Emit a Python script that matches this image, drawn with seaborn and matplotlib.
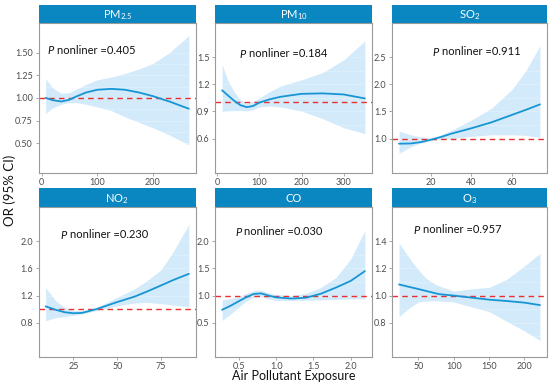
import numpy as np
import pandas as pd
import matplotlib
matplotlib.use("Agg")
import matplotlib.pyplot as plt
import seaborn as sns

# ---------------- data ----------------
titles = ["PM$_{\\mathregular{2.5}}$", "PM$_{\\mathregular{10}}$", "SO$_{\\mathregular{2}}$",
          "NO$_{\\mathregular{2}}$", "CO", "O$_{\\mathregular{3}}$"]
p_values = ["0.405", "0.184", "0.911", "0.230", "0.030", "0.957"]

pm25_x = [7, 20, 35, 50, 60, 80, 100, 125, 150, 175, 200, 230, 265]
pm25_or = [1.00, 0.975, 0.96, 0.98, 1.01, 1.06, 1.09, 1.10, 1.09, 1.06, 1.02, 0.96, 0.88]
pm25_hi = [1.21, 1.11, 1.05, 1.06, 1.09, 1.15, 1.20, 1.23, 1.27, 1.32, 1.38, 1.50, 1.69]
pm25_lo = [0.83, 0.89, 0.93, 0.95, 0.95, 0.93, 0.90, 0.86, 0.79, 0.73, 0.67, 0.59, 0.48]

pm10_x = [12, 25, 40, 55, 70, 85, 100, 125, 150, 200, 250, 300, 350]
pm10_or = [1.134, 1.08, 1.02, 0.97, 0.948, 0.96, 0.998, 1.035, 1.062, 1.095, 1.10, 1.088, 1.044]
pm10_hi = [1.42, 1.25, 1.12, 1.03, 0.99, 1.01, 1.05, 1.12, 1.18, 1.25, 1.33, 1.47, 1.68]
pm10_lo = [0.90, 0.905, 0.91, 0.91, 0.905, 0.92, 0.95, 0.96, 0.95, 0.905, 0.82, 0.72, 0.655]

so2_x = [4.2, 10, 15, 20, 25, 30, 40, 50, 60, 67, 74]
so2_or = [0.906, 0.91, 0.935, 0.98, 1.03, 1.09, 1.19, 1.30, 1.435, 1.53, 1.63]
so2_hi = [1.14, 1.07, 1.03, 1.005, 1.07, 1.15, 1.34, 1.56, 1.90, 2.25, 2.71]
so2_lo = [0.725, 0.85, 0.92, 0.96, 0.985, 0.995, 1.04, 1.07, 1.07, 1.06, 1.02]

no2_x = [9.2, 15, 20, 25, 30, 38, 50, 60, 67, 75, 82, 90.8]
no2_or = [1.041, 0.99, 0.955, 0.94, 0.945, 1.0, 1.105, 1.186, 1.26, 1.35, 1.43, 1.52]
no2_hi = [1.317, 1.12, 1.03, 0.98, 0.98, 1.02, 1.175, 1.30, 1.42, 1.58, 1.85, 2.25]
no2_lo = [0.83, 0.875, 0.89, 0.91, 0.93, 0.98, 1.05, 1.09, 1.10, 1.08, 1.06, 1.035]

co_x = [0.277, 0.4, 0.5, 0.6, 0.7, 0.8, 0.9, 1.0, 1.2, 1.4, 1.6, 1.8, 2.0, 2.19]
co_or = [0.738, 0.82, 0.896, 0.97, 1.03, 1.04, 1.0, 0.967, 0.946, 0.96, 1.034, 1.146, 1.27, 1.45]
co_hi = [0.917, 0.95, 0.98, 1.04, 1.09, 1.10, 1.05, 1.02, 1.0, 1.04, 1.15, 1.33, 1.67, 2.2]
co_lo = [0.54, 0.67, 0.79, 0.90, 0.97, 0.98, 0.94, 0.91, 0.91, 0.915, 0.92, 0.93, 0.94, 0.94]

o3_x = [22.5, 40, 50, 60, 75, 80, 100, 125, 150, 175, 200, 222]
o3_or = [1.082, 1.06, 1.048, 1.035, 1.016, 1.01, 1.0, 0.985, 0.97, 0.96, 0.948, 0.93]
o3_hi = [1.386, 1.255, 1.19, 1.13, 1.08, 1.07, 1.032, 1.05, 1.06, 1.12, 1.218, 1.31]
o3_lo = [0.847, 0.92, 0.953, 0.96, 0.962, 0.96, 0.953, 0.917, 0.882, 0.81, 0.74, 0.67]

xticks = [[0, 100, 200], [0, 100, 200, 300], [20, 40, 60],
          [25, 50, 75], [0.5, 1.0, 1.5, 2.0], [50, 100, 150, 200]]
yticks = [[0.50, 0.75, 1.00, 1.25, 1.50], [0.6, 0.9, 1.2, 1.5], [1.0, 1.5, 2.0, 2.5],
          [0.8, 1.2, 1.6, 2.0], [0.5, 1.0, 1.5, 2.0], [0.8, 1.0, 1.2, 1.4]]
yfmt = ["{:.2f}", "{:.1f}", "{:.1f}", "{:.1f}", "{:.1f}", "{:.1f}"]
xfmt = ["{:.0f}", "{:.0f}", "{:.0f}", "{:.0f}", "{:.1f}", "{:.0f}"]

panels = [(pm25_x, pm25_or, pm25_lo, pm25_hi), (pm10_x, pm10_or, pm10_lo, pm10_hi),
          (so2_x, so2_or, so2_lo, so2_hi), (no2_x, no2_or, no2_lo, no2_hi),
          (co_x, co_or, co_lo, co_hi), (o3_x, o3_or, o3_lo, o3_hi)]

# text positions (axes fraction)
txt_pos = [(0.055, 0.82), (0.155, 0.795), (0.26, 0.81), (0.137, 0.815), (0.127, 0.837), (0.137, 0.85)]

# ---------------- style ----------------
sns.set_style("white")
plt.rcParams["font.family"] = ["Lato", "DejaVu Sans"]
plt.rcParams["mathtext.fontset"] = "custom"
plt.rcParams["mathtext.rm"] = "Lato"
plt.rcParams["mathtext.it"] = "Lato:italic"

STRIP = "#0a87c0"
LINE = "#1795d3"
RIB = "#d3eafb"
RED = "#e8312f"
BORDER = "#9a9a9a"
TICKC = "#4d4d4d"

fig = plt.figure(figsize=(5.5, 3.83), dpi=100)
W, H = 550.0, 383.0
cols = [(38.5, 157.5), (215.0, 157.0), (392.0, 155.0)]
rows = [(23.3, 172.5, 5.0), (207.3, 356.7, 188.0)]

for i, (xs, ys, lo, hi) in enumerate(panels):
    r, c = divmod(i, 3)
    left, width = cols[c]
    top, bottom, stop = rows[r]
    ax = fig.add_axes([left / W, (H - bottom) / H, width / W, (bottom - top) / H])
    sax = fig.add_axes([left / W, (H - top) / H, width / W, (top - stop) / H])
    sax.set_facecolor(STRIP)
    sax.set_xticks([]); sax.set_yticks([])
    for s in sax.spines.values():
        s.set_visible(False)
    sax.text(0.5, 0.45, titles[i], color="white", ha="center", va="center",
             fontsize=8, transform=sax.transAxes)

    df = pd.DataFrame({"x": xs, "or": ys, "lo": lo, "hi": hi})
    ax.fill_between(df["x"], df["lo"], df["hi"], color=RIB, lw=0, zorder=1)
    # faint grid lines visible through the band
    yt = yticks[i]
    step = yt[1] - yt[0]
    for yv in np.arange(yt[0] - step, yt[-1] + step * 1.01, step / 2):
        ax.axhline(yv, color="white", lw=0.6, alpha=0.3, zorder=1.5)
    ax.axhline(1.0, color=RED, lw=1.0, ls=(0, (4, 3)), zorder=2)
    sns.lineplot(data=df, x="x", y="or", ax=ax, color=LINE, lw=1.3, zorder=3)

    ax.margins(x=0.05, y=0.05)
    ax.set_xticks(xticks[i])
    ax.set_xticklabels([xfmt[i].format(v) for v in xticks[i]])
    ax.set_yticks(yt)
    ax.set_yticklabels([yfmt[i].format(v) for v in yt])
    ax.tick_params(axis="both", length=2.5, width=0.6, color=BORDER, labelsize=6.5,
                   labelcolor=TICKC, pad=1.5, left=True, bottom=True)
    ax.set_xlabel(""); ax.set_ylabel("")
    for s in ax.spines.values():
        s.set_color(BORDER); s.set_linewidth(0.8)
    tx, ty = txt_pos[i]
    ax.text(tx, ty, "$\\it{P}$", transform=ax.transAxes,
            fontsize=8, color="#111111", ha="left", va="center", zorder=4)
    ax.text(tx + 0.06, ty, "nonliner =" + p_values[i], transform=ax.transAxes,
            fontsize=8, color="#111111", ha="left", va="center", zorder=4)

fig.text(293.5 / W, 1 - 376.5 / H, "Air Pollutant Exposure", ha="center", va="center",
         fontsize=9, color="#111111")
fig.text(10 / W, 1 - 190 / H, "OR (95% CI)", ha="center", va="center", rotation=90,
         fontsize=9.5, color="#111111")

fig.savefig("out.png", dpi=100)
